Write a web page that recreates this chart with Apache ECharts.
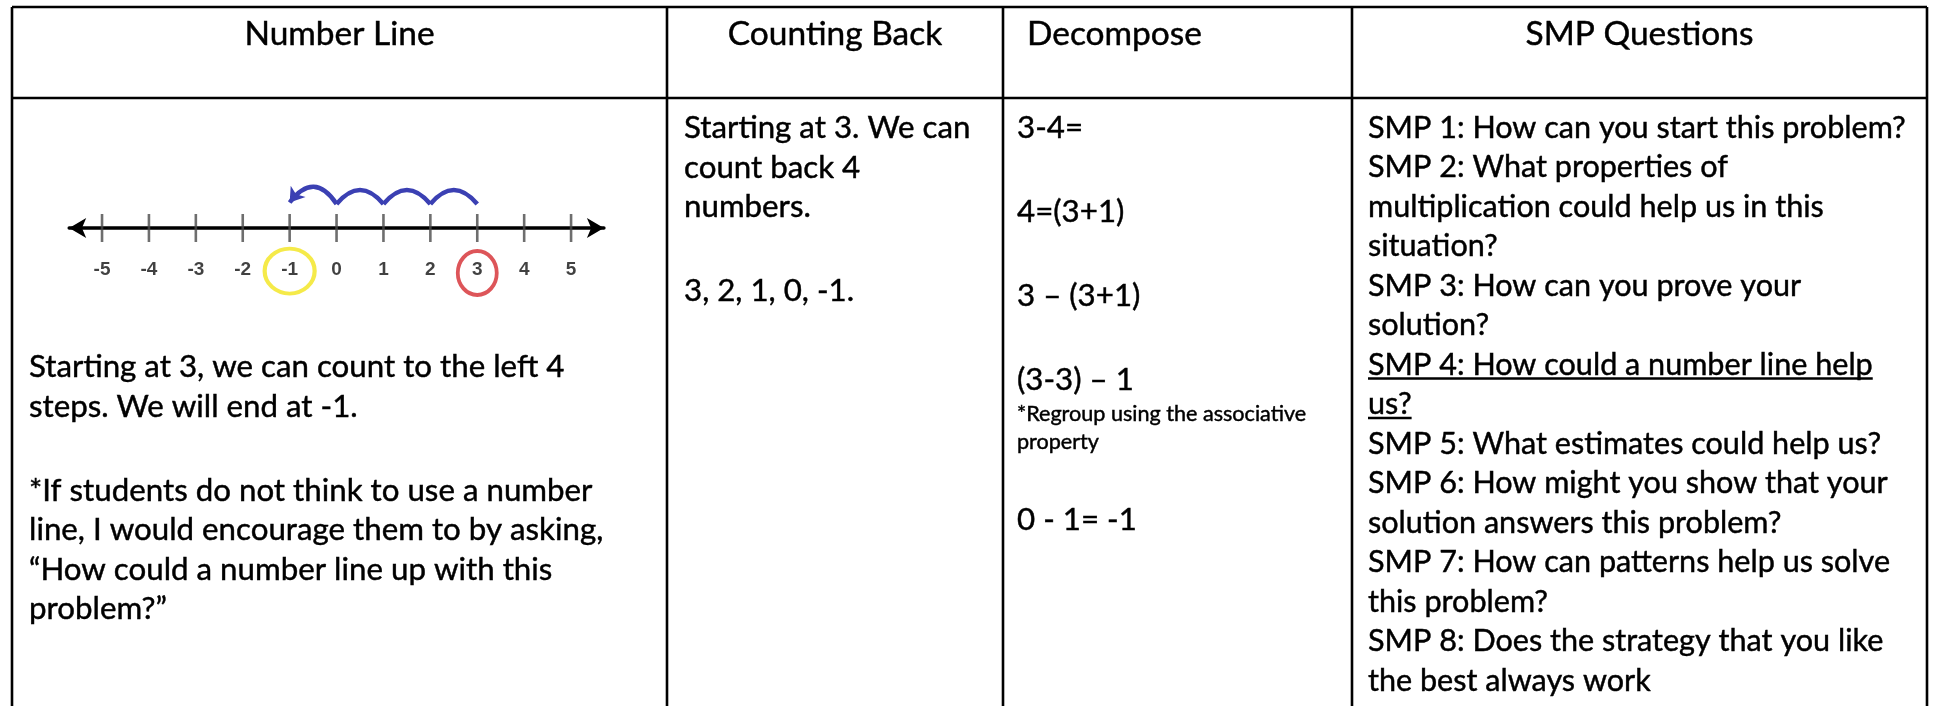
<!DOCTYPE html>
<html>
<head>
<meta charset="utf-8">
<title>Number Line</title>
<script src="https://cdn.jsdelivr.net/npm/echarts@6/dist/echarts.min.js"></script>
<style>
  html, body { margin: 0; padding: 0; background: #ffffff; }
  #chart { width: 1935px; height: 706px; }
</style>
</head>
<body>
<div id="chart"></div>
<script>
// number line
const tickValues = [-5, -4, -3, -2, -1, 0, 1, 2, 3, 4, 5]
const jumpFrom = [3, 2, 1, 0]
const jumpTo = [2, 1, 0, -1]
const startValue = 3
const endValue = -1

// table text
const headers = ['Number Line', 'Counting Back', 'Decompose', 'SMP Questions']
const numberLineText = [
  'Starting at 3, we can count to the left 4',
  'steps. We will end at -1.',
  '',
  '*If students do not think to use a number',
  'line, I would encourage them to by asking,',
  '\u201cHow could a number line up with this',
  'problem?\u201d'
]
const countingBackText = [
  'Starting at 3. We can',
  'count back 4',
  'numbers.',
  '',
  '3, 2, 1, 0, -1.'
]
const decomposeText = ['3-4=', '', '4=(3+1)', '', '3 \u2013 (3+1)', '', '(3-3) \u2013 1']
const decomposeNote = ['*Regroup using the associative', 'property']
const decomposeEnd = ['', '0 - 1= -1']
const smpText = [
  'SMP 1: How can you start this problem?',
  'SMP 2: What properties of',
  'multiplication could help us in this',
  'situation?',
  'SMP 3: How can you prove your',
  'solution?',
  'SMP 4: How could a number line help',
  'us?',
  'SMP 5: What estimates could help us?',
  'SMP 6: How might you show that your',
  'solution answers this problem?',
  'SMP 7: How can patterns help us solve',
  'this problem?',
  'SMP 8: Does the strategy that you like',
  'the best always work'
]
const smpUnderlined = ['SMP 4: How could a number line help', 'us?']

// layout
const FONT = 'Lato'
const colX = [12, 667, 1003, 1352, 1927]
const textX = [29, 684, 1017, 1368]
const TOP = 7
const HEAD_BOTTOM = 98
const LINE = 39.5
const BLANK = 44.5
const NOTE_LINE = 28

const ctx = document.createElement('canvas').getContext('2d')
const textWidth = (str, size) => {
  ctx.font = size + 'px ' + FONT
  return ctx.measureText(str).width
}
// size the text so known lines get about the widths they have in the picture
const fit = (str, w) => 100 * w / textWidth(str, 100)
const BODY = (fit('Starting at 3. We can', 291) + fit('SMP 1: How can you start this problem?', 542)) / 2
const SMP = fit('SMP 1: How can you start this problem?', 538)
const HEAD = BODY * 1.07
const NOTE = BODY * 0.69

const elements = []
const textStyle = (t, size, align) => ({
  text: t, fill: '#000', stroke: '#000', lineWidth: 0.45,
  font: size + 'px ' + FONT, align: align, verticalAlign: 'middle'
})

// grid lines of the table
const border = { stroke: '#000', lineWidth: 2.6 }
elements.push({ type: 'line', shape: { x1: colX[0], y1: TOP, x2: colX[4], y2: TOP }, style: border })
elements.push({ type: 'line', shape: { x1: colX[0], y1: HEAD_BOTTOM, x2: colX[4], y2: HEAD_BOTTOM }, style: border })
colX.forEach(x => {
  elements.push({ type: 'line', shape: { x1: x, y1: TOP, x2: x, y2: 720 }, style: border })
})

// headers
headers.forEach((h, i) => {
  const left = i === 2
  elements.push({
    type: 'text',
    x: left ? 1027 : (colX[i] + colX[i + 1]) / 2,
    y: 34,
    style: textStyle(h, HEAD, left ? 'left' : 'center')
  })
})

// stacks lines of text downwards, returns the bottom
function stack(lines, x, top, size, lineH) {
  let y = top
  lines.forEach(t => {
    if (t === '') {
      y += BLANK
      return
    }
    const mid = y + lineH / 2
    elements.push({ type: 'text', x: x, y: mid, style: textStyle(t, size, 'left') })
    if (smpUnderlined.includes(t)) {
      const uy = mid + 13.5
      elements.push({
        type: 'line',
        shape: { x1: x, y1: uy, x2: x + textWidth(t, size), y2: uy },
        style: { stroke: '#000', lineWidth: 2.5 }
      })
    }
    y += lineH
  })
  return y
}

const firstTop = 128 - LINE / 2
stack(numberLineText, textX[0], 367 - LINE / 2, BODY, LINE)
stack(countingBackText, textX[1], firstTop, BODY, LINE)
let y = stack(decomposeText, textX[2], firstTop, BODY, LINE)
y = stack(decomposeNote, textX[2], y, NOTE, NOTE_LINE)
stack(decomposeEnd, textX[2], y, BODY, LINE)
stack(smpText, textX[3], firstTop, SMP, LINE)

// number line
const LABEL_Y = -2.8
const JUMP_Y = 1.6
const blue = '#3b40b3'

const chart = echarts.init(document.getElementById('chart'))
chart.setOption({
  animation: false,
  backgroundColor: '#ffffff',
  grid: {
    left: 69.2,
    top: 180,
    width: 534.7,
    height: 120,
    containLabel: false,
    outerBoundsMode: 'none'
  },
  xAxis: {
    type: 'value',
    min: -5.7,
    max: 5.7,
    axisLine: {
      onZero: true,
      symbol: ['arrow', 'arrow'],
      symbolSize: [15, 17],
      lineStyle: { color: '#000', width: 3.5 }
    },
    axisTick: { show: false },
    axisLabel: { show: false },
    splitLine: { show: false }
  },
  yAxis: {
    type: 'value',
    min: -4.8,
    max: 3.2,
    show: false,
    splitLine: { show: false }
  },
  series: [
    {
      name: 'ticks',
      type: 'scatter',
      silent: true,
      symbol: 'rect',
      symbolSize: [2.6, 28],
      itemStyle: { color: '#4a4a4a' },
      data: tickValues.map(v => [v, 0]),
      z: 3
    },
    {
      name: 'labels',
      type: 'scatter',
      silent: true,
      symbolSize: 1,
      itemStyle: { color: 'rgba(0,0,0,0)' },
      label: {
        show: true,
        position: 'inside',
        formatter: p => String(p.value[0]),
        color: '#111',
        fontSize: 19,
        fontWeight: 'bold',
        fontFamily: 'Liberation Sans'
      },
      data: tickValues.map(v => [v, LABEL_Y])
    },
    {
      name: 'circled',
      type: 'scatter',
      silent: true,
      clip: false,
      symbol: 'circle',
      data: [
        { value: [endValue, -2.87], symbolSize: [50, 45], itemStyle: { borderColor: '#f2e51c' } },
        { value: [startValue, -3.0], symbolSize: [39, 44], itemStyle: { borderColor: '#d42a2f' } }
      ],
      itemStyle: { color: 'rgba(0,0,0,0)', borderWidth: 4 }
    },
    {
      name: 'jumps',
      type: 'lines',
      coordinateSystem: 'cartesian2d',
      silent: true,
      symbol: ['none', 'none'],
      lineStyle: { color: blue, width: 4.5, opacity: 1, curveness: -0.6 },
      data: jumpFrom.slice(0, -1).map((f, i) => ({ coords: [[f, JUMP_Y], [jumpTo[i], JUMP_Y]] }))
    },
    {
      name: 'lastJump',
      type: 'lines',
      coordinateSystem: 'cartesian2d',
      silent: true,
      symbol: ['none', 'arrow'],
      symbolSize: 14,
      lineStyle: { color: blue, width: 4.5, opacity: 1, curveness: -0.7 },
      data: [{ coords: [[jumpFrom[3], JUMP_Y], [jumpTo[3], JUMP_Y + 0.1]] }]
    }
  ],
  graphic: { elements: elements }
})
</script>
</body>
</html>
